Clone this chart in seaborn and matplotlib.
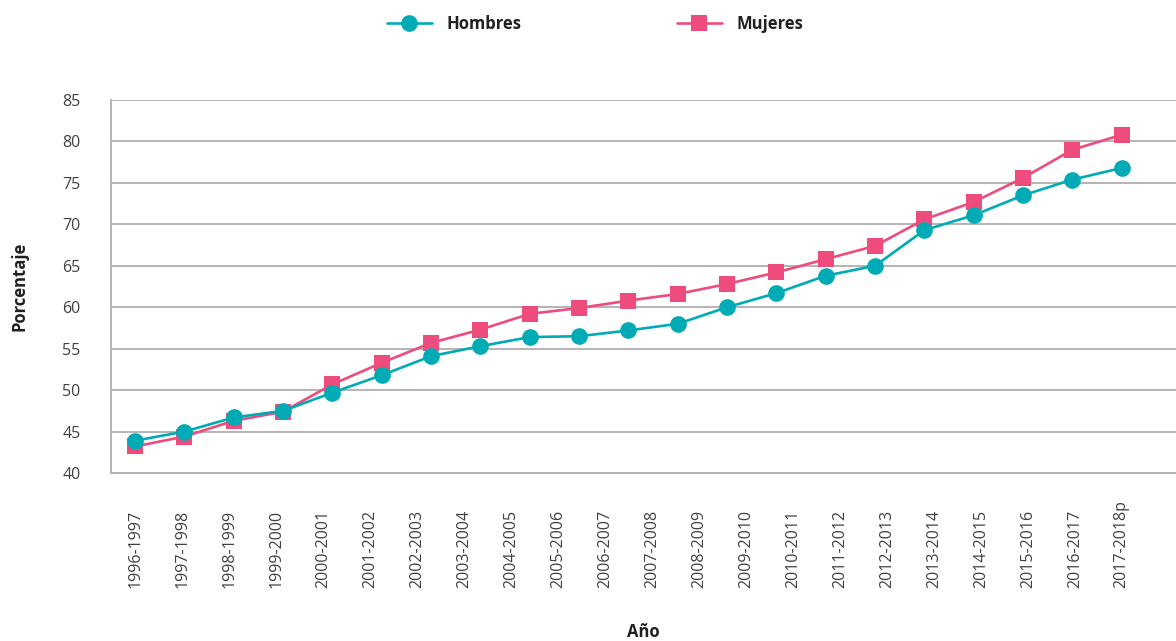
import numpy as np
import pandas as pd
import matplotlib
matplotlib.use("Agg")
import matplotlib.pyplot as plt
import seaborn as sns

# Periodos escolares (etiquetas del eje X)
periodos = [
    "1996-1997", "1997-1998", "1998-1999", "1999-2000", "2000-2001",
    "2001-2002", "2002-2003", "2003-2004", "2004-2005", "2005-2006",
    "2006-2007", "2007-2008", "2008-2009", "2009-2010", "2010-2011",
    "2011-2012", "2012-2013", "2013-2014", "2014-2015", "2015-2016",
    "2016-2017", "2017-2018p",
]

# Porcentajes por sexo
hombres = [43.9, 45.0, 46.7, 47.5, 49.7, 51.8, 54.1, 55.3, 56.4, 56.5, 57.2,
           58.0, 60.0, 61.7, 63.8, 65.0, 69.3, 71.1, 73.5, 75.4, 76.8]
mujeres = [43.2, 44.4, 46.3, 47.4, 50.7, 53.3, 55.7, 57.3, 59.2, 59.9, 60.8,
           61.6, 62.8, 64.2, 65.8, 67.4, 70.6, 72.7, 75.6, 79.0, 80.8]

y_ticks = [40, 45, 50, 55, 60, 65, 70, 75, 80, 85]

color_h = "#00ABB6"
color_m = "#EE4C7C"
grid_c = "#B4B4B4"
text_c = "#404040"

sns.set_theme(style="white")
plt.rcParams["font.family"] = ["Open Sans", "DejaVu Sans"]

fig = plt.figure(figsize=(11.76, 6.41), dpi=100)
ax = fig.add_axes([111 / 1176, 1 - 473 / 641, 1 - 111 / 1176, 373 / 641])

df_m = pd.DataFrame({"x": np.arange(len(mujeres)), "y": mujeres})
df_h = pd.DataFrame({"x": np.arange(len(hombres)), "y": hombres})

sns.lineplot(data=df_m, x="x", y="y", ax=ax, color=color_m, marker="s",
             markersize=11.5, markeredgewidth=0, linewidth=1.9,
             label="Mujeres", zorder=3)
sns.lineplot(data=df_h, x="x", y="y", ax=ax, color=color_h, marker="o",
             markersize=12, markeredgewidth=0, linewidth=1.9,
             label="Hombres", zorder=4)

ax.set_ylim(40, 85)
ax.set_xlim(-0.49, 21.1)
ax.set_yticks(y_ticks)
ax.set_yticklabels([str(t) for t in y_ticks], color=text_c, fontsize=11.5)

# Etiquetas de periodo repartidas a lo largo del eje
ax.set_xticks(np.linspace(0, len(hombres) - 1, len(periodos)))
ax.set_xticklabels(periodos, rotation=90, va="bottom", ha="center",
                   color=text_c, fontsize=11.5)
ax.tick_params(axis="x", length=0, pad=83)
ax.tick_params(axis="y", length=0, pad=22)

ax.yaxis.grid(True, color=grid_c, linewidth=1.4)
ax.xaxis.grid(False)
for side in ["top", "right"]:
    ax.spines[side].set_visible(False)
for side in ["left", "bottom"]:
    ax.spines[side].set_color(grid_c)
    ax.spines[side].set_linewidth(1.4)

ax.set_ylabel("Porcentaje", fontsize=12, fontweight="bold", color="#231F20")
ax.yaxis.set_label_coords(-0.077, 0.5)
ax.set_xlabel("Año", fontsize=12, fontweight="bold", color="#231F20")
ax.xaxis.set_label_coords(0.5, -0.425)
ax.xaxis.label.set_va("center")

# Leyenda superior: Hombres primero, Mujeres después
handles, labels = ax.get_legend_handles_labels()
ax.get_legend().remove()
order = [labels.index("Hombres"), labels.index("Mujeres")]
leg = fig.legend([handles[i] for i in order], [labels[i] for i in order],
                 loc="center", bbox_to_anchor=(0.506, 1 - 24 / 641), ncol=2,
                 frameon=False, handlelength=2.7, handletextpad=0.9,
                 columnspacing=9.3, prop={"weight": "bold", "size": 12})
for t in leg.get_texts():
    t.set_color("#231F20")

fig.savefig("out.png", dpi=100)
